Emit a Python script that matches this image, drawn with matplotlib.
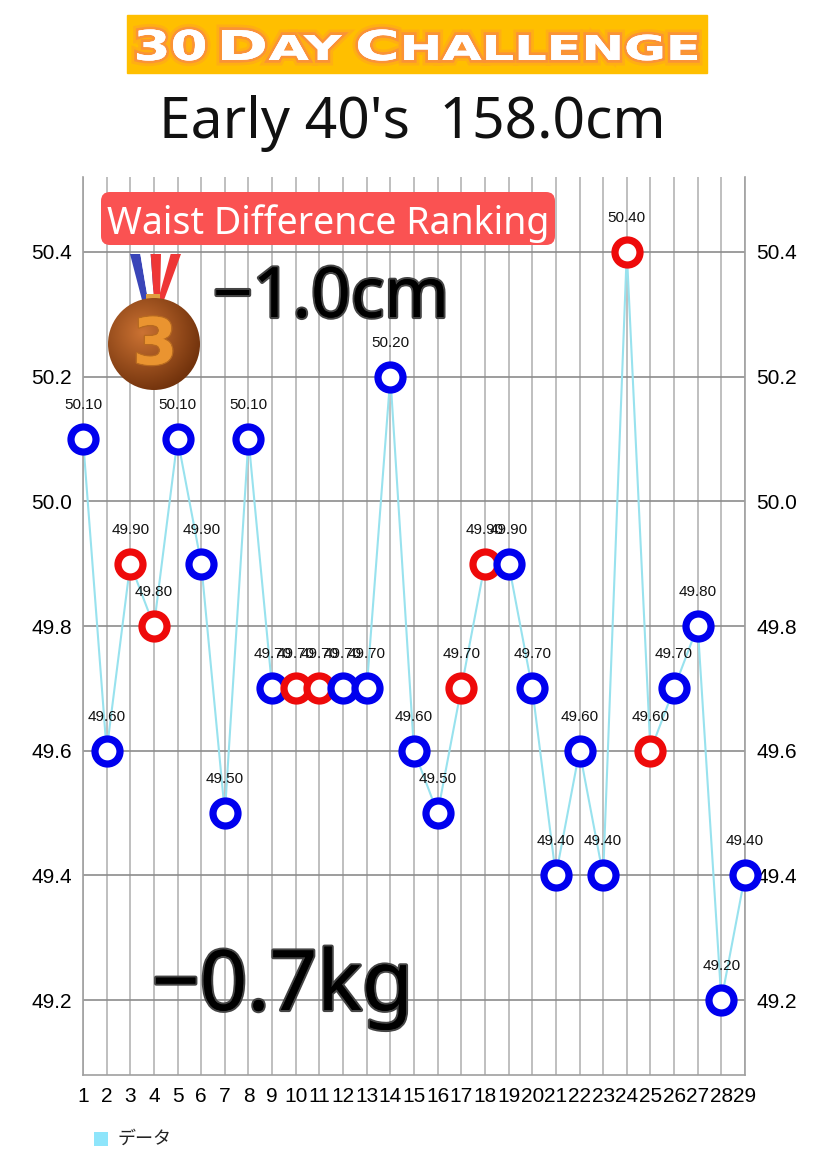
import matplotlib
matplotlib.use('Agg')
import matplotlib.pyplot as plt
import numpy as np
from matplotlib.patches import FancyBboxPatch, Circle, Polygon, Rectangle, PathPatch
from matplotlib.textpath import TextPath
from matplotlib.font_manager import FontProperties
from matplotlib.transforms import Affine2D
import matplotlib.patheffects as pe

# ---------------- data ----------------
days = list(range(1, 30))
waist = [50.10, 49.60, 49.90, 49.80, 50.10, 49.90, 49.50, 50.10, 49.70, 49.70,
         49.70, 49.70, 49.70, 50.20, 49.60, 49.50, 49.70, 49.90, 49.90, 49.70,
         49.40, 49.60, 49.40, 50.40, 49.60, 49.70, 49.80, 49.20, 49.40]
marker_kind = ['b', 'b', 'r', 'r', 'b', 'b', 'b', 'b', 'b', 'r',
               'r', 'b', 'b', 'b', 'b', 'b', 'r', 'r', 'b', 'b',
               'b', 'b', 'b', 'r', 'r', 'b', 'b', 'b', 'b']
y_ticks = [49.2, 49.4, 49.6, 49.8, 50.0, 50.2, 50.4]
x_tick_labels = [str(d) for d in days]
title_words = ["30", "DAY", "CHALLENGE"]
subtitle = "Early 40's  158.0cm"
ranking_label = "Waist Difference Ranking"
waist_diff = "\u22121.0cm"
weight_diff = "\u22120.7kg"
legend_label = "データ"
medal_rank = "3"

# ---------------- styles ----------------
W, H = 828, 1163
BLUE = '#0000ee'
RED = '#ee0a0a'
LINE = '#98e2ee'
kind_color = {'b': BLUE, 'r': RED}

fig = plt.figure(figsize=(W / 100, H / 100), dpi=100)
fig.patch.set_facecolor('white')

ax = fig.add_axes([83 / W, 1 - 1075 / H, (745 - 83) / W, (1075 - 177) / H])
ax.set_xlim(1, 29)
ax.set_ylim(49.08, 50.52)

ax.plot(days, waist, color=LINE, lw=1.5, zorder=2, clip_on=False)
for d, v, k in zip(days, waist, marker_kind):
    ax.plot(d, v, 'o', ms=18, mfc='white', mec=kind_color[k], mew=5.2,
            zorder=3, clip_on=False)
for d, v in zip(days, waist):
    ax.annotate(f'{v:.2f}', (d, v), xytext=(0, 24.5), textcoords='offset points',
                ha='center', va='center', fontsize=11, family='Liberation Sans',
                color='#111111', zorder=4, annotation_clip=False)

ax.set_xticks(days)
ax.set_xticklabels(x_tick_labels, family=['Liberation Sans Narrow', 'Liberation Sans'],
                   fontsize=15)
ax.set_yticks(y_ticks)
ax.set_yticklabels([f'{t:.1f}' for t in y_ticks], family='Liberation Sans', fontsize=15)
ax.tick_params(axis='x', length=0, pad=9)
ax.tick_params(axis='y', length=0, pad=8, labelright=True)
ax.grid(axis='x', color='#b4b4b4', lw=1.2)
ax.grid(axis='y', color='#8c8c8c', lw=1.2)
ax.set_axisbelow(True)
for s in ['left', 'right', 'bottom']:
    ax.spines[s].set_color('#a0a0a0')
    ax.spines[s].set_linewidth(1.2)
ax.spines['top'].set_visible(False)

# ---------------- overlay (pixel coordinates) ----------------
ov = fig.add_axes([0, 0, 1, 1], zorder=10)
ov.set_xlim(0, W)
ov.set_ylim(H, 0)
ov.set_autoscale_on(False)
ov.axis('off')

# orange banner with small-caps title
ov.add_patch(Rectangle((127, 15), 580, 58, color='#ffbf00', zorder=1))
fp_title = FontProperties(family='DejaVu Sans', weight='bold')
big_em, small_em = 30 / 0.729, 25 / 0.729
word_spans = [(137, 205), (222, 342), (358, 697)]
baseline = 60
glow = [pe.withStroke(linewidth=8, foreground='#ff5a7a', alpha=0.15),
        pe.withStroke(linewidth=4, foreground='#f2607a', alpha=0.35),
        pe.Normal()]
for word, (x0, x1) in zip(title_words, word_spans):
    parts = []
    if word.isdigit():
        parts.append(TextPath((0, 0), word, size=big_em, prop=fp_title))
    else:
        first = TextPath((0, 0), word[0], size=big_em, prop=fp_title)
        fx = first.get_extents().x1
        rest = TextPath((fx + 0.06 * big_em, 0), word[1:], size=small_em, prop=fp_title)
        parts = [first, rest]
    xmin = min(p.get_extents().x0 for p in parts)
    xmax = max(p.get_extents().x1 for p in parts)
    sx = (x1 - x0) / (xmax - xmin)
    tr = Affine2D().translate(-xmin, 0).scale(sx, -1).translate(x0, baseline)
    for p in parts:
        ov.add_patch(PathPatch(tr.transform_path(p), fc='white', ec='none',
                               zorder=2, path_effects=glow))

# subtitle
ov.text(412, 138, subtitle, fontsize=41, family='Noto Sans', color='#111111',
        ha='center', va='baseline', zorder=2)

# ranking box
ov.add_patch(FancyBboxPatch((101, 192), 454, 53,
                            boxstyle='round,pad=0,rounding_size=9',
                            fc='#fa5252', ec='none', zorder=1))
ov.text(328, 219, ranking_label, fontsize=27, family='Noto Sans', color='white',
        ha='center', va='center_baseline', zorder=2)


# medal ribbon
def arm(top, bot, colors, ytop=254, ybot=300, z=1):
    n = len(colors)
    for i, c in enumerate(colors):
        f0, f1 = i / n, (i + 1) / n
        pts = [[top[0] + (top[1] - top[0]) * f0, ytop],
               [top[0] + (top[1] - top[0]) * f1, ytop],
               [bot[0] + (bot[1] - bot[0]) * f1, ybot],
               [bot[0] + (bot[1] - bot[0]) * f0, ybot]]
        ov.add_patch(Polygon(pts, closed=True, fc=c, ec='none', zorder=z))


arm((150, 181), (146, 164), ['#3a45b8', '#ffffff', '#ee3636'], z=1)
arm((130, 161), (142, 160), ['#3a45b8', '#ffffff', '#ee3636'], z=2)
ov.add_patch(Rectangle((146, 294), 14, 9, fc='#e0a040', ec='none', zorder=2))

# medal disc with gradient
cx, cy, r = 154, 344, 46
gy, gx = np.mgrid[-1:1:200j, -1:1:200j]
dist = np.sqrt((gx + 0.25) ** 2 + (gy + 0.25) ** 2)
c0 = np.array([0.80, 0.45, 0.20])
c1 = np.array([0.45, 0.20, 0.05])
tt = np.clip(dist / 1.3, 0, 1)[..., None]
img = c0 * (1 - tt) + c1 * tt
disc = Circle((cx, cy), r, transform=ov.transData)
im = ov.imshow(img, extent=(cx - r, cx + r, cy + r, cy - r), origin='upper',
               zorder=3, aspect='auto', interpolation='bilinear')
im.set_clip_path(disc)
ov.set_xlim(0, W)
ov.set_ylim(H, 0)
ov.text(cx + 1, cy + 2, medal_rank, fontsize=46, family='DejaVu Sans', weight='bold',
        color='#ea9430', ha='center', va='center', zorder=4,
        path_effects=[pe.withStroke(linewidth=2, foreground='#b86a20'), pe.Normal()])

# big numbers
outline = [pe.withStroke(linewidth=3, foreground='#444444'), pe.Normal()]
ov.text(213, 317, waist_diff, fontsize=50, family='Noto Sans', color='#000000',
        ha='left', va='baseline', zorder=5, path_effects=outline)
ov.text(152, 1010, weight_diff, fontsize=60, family='Noto Sans', color='#000000',
        ha='left', va='baseline', zorder=5, path_effects=outline)

# legend
ov.add_patch(Rectangle((94, 1132), 14, 14, fc='#8ee5fb', ec='none', zorder=2))
ov.text(118, 1139, legend_label, fontsize=13, family=['Noto Sans CJK JP', 'DejaVu Sans'],
        color='#222222', ha='left', va='center', zorder=2)

fig.savefig('out.png', dpi=100)
